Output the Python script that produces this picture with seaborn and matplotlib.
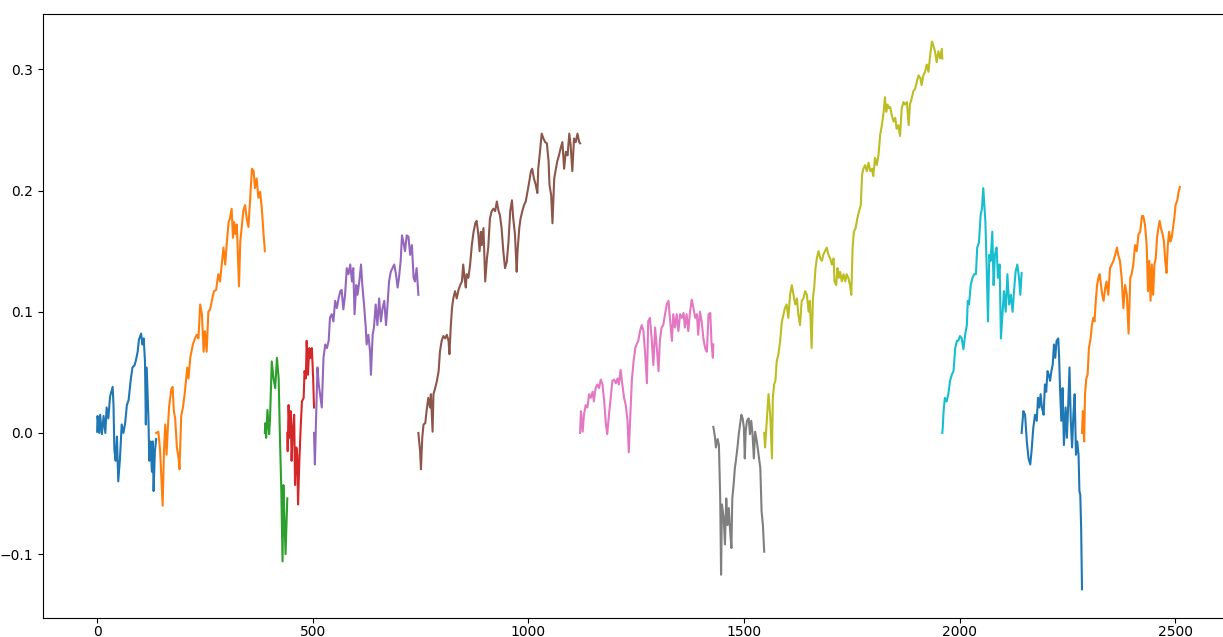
import pandas as pd
import matplotlib
matplotlib.use("Agg")
import matplotlib.pyplot as plt
import seaborn as sns

# cumulative return segments
seg1_x = [0, 1, 5, 7, 11, 15, 19, 22, 26, 30, 36, 38, 40, 43, 46, 49, 53, 57, 61, 65, 69, 73, 78, 82, 87, 90, 94, 97, 102, 105, 108, 111, 113, 115, 119, 121, 124, 127, 129, 131, 134, 137]
seg1_y = [0.001, 0.014, 0.0, 0.015, -0.001, 0.014, 0.0, 0.021, 0.012, 0.030, 0.038, 0.023, -0.014, -0.023, -0.003, -0.040, -0.021, 0.007, 0.0, 0.008, 0.023, 0.027, 0.044, 0.054, 0.056, 0.060, 0.067, 0.077, 0.082, 0.073, 0.078, 0.059, 0.007, 0.054, 0.012, -0.023, -0.007, -0.032, -0.007, -0.048, -0.015, -0.005]

seg2_x = [137, 142, 146, 152, 155, 158, 161, 164, 167, 172, 175, 178, 181, 185, 189, 191, 195, 199, 203, 206, 209, 212, 216, 222, 227, 231, 235, 239, 243, 247, 250, 254, 258, 262, 266, 271, 276, 281, 285, 289, 293, 297, 301, 305, 308, 312, 315, 318, 321, 324, 329, 332, 336, 339, 343, 347, 351, 355, 359, 363, 366, 370, 374, 378, 382, 386, 389]
seg2_y = [0.0, 0.001, -0.014, -0.060, -0.015, 0.007, -0.018, 0.004, 0.022, 0.036, 0.038, 0.018, 0.012, -0.012, -0.021, -0.030, 0.014, 0.021, 0.032, 0.043, 0.054, 0.045, 0.062, 0.073, 0.078, 0.081, 0.078, 0.106, 0.098, 0.067, 0.084, 0.067, 0.100, 0.102, 0.109, 0.117, 0.118, 0.131, 0.125, 0.139, 0.153, 0.139, 0.158, 0.174, 0.177, 0.185, 0.161, 0.174, 0.164, 0.172, 0.121, 0.158, 0.172, 0.183, 0.188, 0.177, 0.170, 0.194, 0.218, 0.216, 0.202, 0.210, 0.194, 0.199, 0.185, 0.164, 0.150]

seg3_x = [389, 390, 392, 395, 399, 401, 405, 409, 413, 417, 421, 424, 427, 430, 432, 434, 437, 441]
seg3_y = [0.0, 0.008, -0.004, 0.019, -0.001, 0.012, 0.059, 0.045, 0.037, 0.062, 0.045, -0.004, -0.045, -0.106, -0.043, -0.067, -0.100, -0.054]

seg4_x = [441, 442, 444, 447, 449, 451, 454, 457, 459, 462, 464, 466, 469, 472, 475, 479, 481, 484, 486, 489, 492, 495, 498, 501, 503]
seg4_y = [0.0, -0.015, 0.023, -0.004, 0.018, -0.023, 0.004, 0.015, -0.043, -0.012, -0.018, -0.059, -0.023, 0.004, 0.026, 0.029, 0.051, 0.045, 0.076, 0.048, 0.070, 0.062, 0.070, 0.045, 0.021]

seg5_x = [503, 505, 508, 511, 514, 517, 521, 525, 529, 533, 537, 540, 544, 548, 552, 556, 560, 564, 567, 571, 575, 579, 583, 587, 591, 594, 597, 601, 604, 608, 612, 615, 619, 623, 625, 629, 633, 635, 639, 642, 646, 650, 654, 658, 662, 666, 670, 673, 677, 681, 685, 689, 693, 697, 700, 704, 707, 710, 714, 718, 722, 726, 730, 734, 737, 741, 745]
seg5_y = [0.0, -0.026, 0.015, 0.054, 0.040, 0.032, 0.021, 0.062, 0.073, 0.070, 0.076, 0.095, 0.098, 0.092, 0.109, 0.103, 0.111, 0.117, 0.118, 0.102, 0.114, 0.136, 0.131, 0.139, 0.125, 0.136, 0.098, 0.122, 0.114, 0.125, 0.139, 0.122, 0.106, 0.087, 0.073, 0.081, 0.067, 0.048, 0.081, 0.087, 0.106, 0.089, 0.111, 0.092, 0.103, 0.109, 0.089, 0.103, 0.125, 0.133, 0.136, 0.139, 0.131, 0.120, 0.128, 0.142, 0.163, 0.158, 0.150, 0.163, 0.162, 0.147, 0.155, 0.128, 0.125, 0.136, 0.114]

seg6_x = [745, 749, 751, 754, 757, 761, 764, 768, 772, 774, 778, 780, 784, 788, 792, 795, 799, 803, 807, 811, 815, 817, 820, 823, 826, 830, 834, 838, 842, 846, 849, 852, 855, 857, 861, 865, 869, 873, 877, 880, 884, 887, 890, 892, 896, 900, 904, 907, 911, 915, 919, 923, 927, 931, 934, 938, 942, 946, 950, 954, 958, 962, 965, 969, 973, 975, 979, 982, 986, 990, 994, 998, 1002, 1006, 1009, 1013, 1017, 1021, 1023, 1027, 1031, 1035, 1039, 1043, 1047, 1049, 1053, 1056, 1060, 1064, 1067, 1071, 1075, 1079, 1083, 1087, 1091, 1095, 1098, 1102, 1106, 1110, 1114, 1118, 1120]
seg6_y = [0.0, -0.015, -0.030, -0.004, 0.007, 0.008, 0.018, 0.029, 0.021, 0.032, 0.001, 0.032, 0.037, 0.043, 0.051, 0.067, 0.076, 0.080, 0.078, 0.081, 0.076, 0.065, 0.087, 0.103, 0.111, 0.117, 0.111, 0.118, 0.122, 0.125, 0.139, 0.128, 0.120, 0.131, 0.128, 0.139, 0.155, 0.166, 0.173, 0.175, 0.164, 0.150, 0.166, 0.155, 0.169, 0.125, 0.144, 0.153, 0.177, 0.183, 0.185, 0.183, 0.191, 0.183, 0.180, 0.169, 0.150, 0.136, 0.141, 0.158, 0.183, 0.192, 0.177, 0.164, 0.133, 0.150, 0.169, 0.177, 0.183, 0.188, 0.191, 0.199, 0.207, 0.216, 0.218, 0.210, 0.205, 0.198, 0.218, 0.232, 0.247, 0.243, 0.240, 0.239, 0.224, 0.205, 0.196, 0.173, 0.210, 0.218, 0.224, 0.229, 0.235, 0.240, 0.218, 0.232, 0.229, 0.247, 0.238, 0.216, 0.243, 0.240, 0.247, 0.240, 0.239]

seg7_x = [1120, 1122, 1126, 1129, 1133, 1137, 1141, 1145, 1149, 1152, 1156, 1160, 1164, 1168, 1172, 1176, 1180, 1183, 1187, 1191, 1195, 1199, 1203, 1207, 1210, 1214, 1218, 1222, 1226, 1230, 1233, 1236, 1240, 1244, 1248, 1251, 1255, 1259, 1263, 1267, 1271, 1275, 1278, 1282, 1286, 1290, 1294, 1298, 1302, 1305, 1309, 1313, 1317, 1321, 1325, 1329, 1333, 1336, 1340, 1344, 1348, 1352, 1356, 1360, 1363, 1367, 1371, 1375, 1379, 1383, 1387, 1391, 1394, 1398, 1402, 1406, 1410, 1414, 1418, 1422, 1425, 1428, 1429]
seg7_y = [0.0, 0.018, 0.001, 0.015, 0.023, 0.021, 0.032, 0.029, 0.034, 0.026, 0.037, 0.040, 0.037, 0.044, 0.040, 0.026, 0.007, -0.001, 0.015, 0.029, 0.043, 0.044, 0.041, 0.045, 0.040, 0.052, 0.040, 0.029, 0.023, 0.010, -0.016, 0.010, 0.043, 0.059, 0.070, 0.073, 0.076, 0.084, 0.089, 0.084, 0.065, 0.041, 0.092, 0.095, 0.078, 0.056, 0.087, 0.070, 0.051, 0.076, 0.087, 0.089, 0.098, 0.106, 0.109, 0.092, 0.076, 0.098, 0.087, 0.098, 0.084, 0.098, 0.095, 0.099, 0.087, 0.098, 0.084, 0.100, 0.110, 0.103, 0.095, 0.098, 0.081, 0.100, 0.092, 0.078, 0.070, 0.067, 0.098, 0.099, 0.073, 0.062, 0.073]

seg8_x = [1429, 1431, 1433, 1435, 1439, 1442, 1445, 1447, 1449, 1453, 1456, 1459, 1462, 1465, 1468, 1471, 1473, 1476, 1479, 1482, 1485, 1488, 1491, 1494, 1497, 1500, 1502, 1504, 1507, 1511, 1514, 1517, 1520, 1523, 1526, 1530, 1534, 1538, 1541, 1544, 1547]
seg8_y = [0.005, 0.001, -0.004, -0.012, -0.005, -0.010, -0.054, -0.117, -0.059, -0.070, -0.092, -0.054, -0.076, -0.062, -0.081, -0.095, -0.054, -0.043, -0.029, -0.021, -0.012, -0.001, 0.007, 0.015, 0.012, 0.004, -0.021, 0.001, 0.010, 0.012, -0.001, 0.010, -0.001, -0.021, 0.001, -0.007, -0.018, -0.029, -0.065, -0.076, -0.098]

seg9_x = [1547, 1549, 1553, 1557, 1561, 1565, 1567, 1570, 1573, 1576, 1580, 1584, 1588, 1592, 1595, 1599, 1603, 1607, 1611, 1615, 1619, 1623, 1626, 1630, 1634, 1638, 1642, 1646, 1650, 1653, 1657, 1660, 1663, 1666, 1669, 1673, 1677, 1681, 1684, 1688, 1692, 1696, 1700, 1704, 1708, 1710, 1714, 1717, 1720, 1723, 1727, 1731, 1735, 1738, 1742, 1746, 1749, 1752, 1755, 1759, 1763, 1767, 1771, 1774, 1777, 1781, 1785, 1789, 1793, 1797, 1800, 1804, 1808, 1812, 1816, 1820, 1824, 1827, 1830, 1833, 1836, 1839, 1843, 1847, 1851, 1854, 1858, 1862, 1866, 1870, 1874, 1878, 1882, 1885, 1889, 1893, 1897, 1901, 1905, 1909, 1912, 1916, 1920, 1924, 1928, 1932, 1936, 1939, 1943, 1947, 1951, 1955, 1959, 1960]
seg9_y = [0.0, -0.012, 0.010, 0.032, 0.015, -0.021, 0.029, 0.040, 0.043, 0.059, 0.065, 0.076, 0.092, 0.098, 0.103, 0.106, 0.095, 0.114, 0.122, 0.114, 0.106, 0.111, 0.098, 0.089, 0.109, 0.111, 0.117, 0.114, 0.100, 0.109, 0.070, 0.111, 0.120, 0.136, 0.144, 0.150, 0.144, 0.142, 0.147, 0.150, 0.153, 0.147, 0.144, 0.139, 0.144, 0.125, 0.122, 0.136, 0.128, 0.133, 0.125, 0.131, 0.125, 0.131, 0.128, 0.122, 0.114, 0.153, 0.166, 0.169, 0.177, 0.183, 0.188, 0.213, 0.218, 0.221, 0.216, 0.223, 0.216, 0.218, 0.212, 0.227, 0.221, 0.229, 0.246, 0.254, 0.265, 0.277, 0.265, 0.271, 0.268, 0.269, 0.262, 0.257, 0.260, 0.251, 0.254, 0.245, 0.268, 0.273, 0.271, 0.273, 0.254, 0.271, 0.276, 0.282, 0.284, 0.290, 0.295, 0.293, 0.287, 0.295, 0.298, 0.304, 0.298, 0.312, 0.323, 0.320, 0.315, 0.306, 0.315, 0.309, 0.317, 0.309]

seg10_x = [1960, 1961, 1963, 1966, 1970, 1974, 1978, 1982, 1986, 1990, 1994, 1997, 2001, 2005, 2009, 2013, 2017, 2019, 2022, 2026, 2030, 2034, 2038, 2041, 2045, 2049, 2052, 2055, 2058, 2060, 2063, 2066, 2069, 2072, 2076, 2079, 2082, 2086, 2089, 2093, 2096, 2099, 2103, 2107, 2111, 2115, 2119, 2123, 2127, 2130, 2134, 2138, 2141, 2144]
seg10_y = [0.0, 0.004, 0.018, 0.029, 0.026, 0.032, 0.043, 0.048, 0.051, 0.070, 0.076, 0.076, 0.080, 0.078, 0.069, 0.081, 0.089, 0.109, 0.106, 0.122, 0.128, 0.131, 0.131, 0.153, 0.157, 0.180, 0.185, 0.202, 0.185, 0.174, 0.136, 0.092, 0.147, 0.142, 0.166, 0.122, 0.147, 0.153, 0.128, 0.139, 0.078, 0.095, 0.117, 0.100, 0.131, 0.106, 0.114, 0.100, 0.120, 0.133, 0.139, 0.128, 0.114, 0.132]

seg11_x = [2144, 2148, 2152, 2156, 2160, 2164, 2167, 2171, 2175, 2179, 2182, 2185, 2188, 2191, 2195, 2198, 2201, 2204, 2207, 2210, 2213, 2216, 2219, 2222, 2225, 2229, 2231, 2233, 2236, 2239, 2242, 2246, 2249, 2252, 2255, 2258, 2261, 2264, 2267, 2270, 2273, 2276, 2278, 2280, 2282, 2284]
seg11_y = [0.0, 0.018, 0.015, -0.007, -0.021, -0.026, -0.015, 0.004, 0.015, 0.010, 0.029, 0.021, 0.032, 0.021, 0.015, 0.040, 0.034, 0.051, 0.048, 0.043, 0.051, 0.056, 0.073, 0.062, 0.076, 0.078, 0.062, 0.037, 0.010, 0.037, -0.010, 0.021, -0.004, 0.023, 0.054, 0.010, -0.012, 0.015, 0.032, -0.018, -0.007, -0.018, -0.048, -0.051, -0.078, -0.129]

seg12_x = [2284, 2286, 2289, 2291, 2294, 2297, 2300, 2304, 2307, 2310, 2313, 2316, 2319, 2322, 2325, 2328, 2331, 2334, 2338, 2341, 2345, 2349, 2353, 2357, 2361, 2365, 2368, 2372, 2376, 2380, 2384, 2388, 2392, 2396, 2399, 2403, 2407, 2411, 2415, 2419, 2423, 2426, 2430, 2434, 2437, 2440, 2443, 2446, 2449, 2452, 2455, 2458, 2461, 2464, 2467, 2471, 2474, 2477, 2480, 2483, 2486, 2489, 2492, 2495, 2498, 2501, 2505, 2508, 2511]
seg12_y = [0.0, 0.018, -0.007, 0.032, 0.045, 0.048, 0.070, 0.078, 0.089, 0.095, 0.092, 0.109, 0.122, 0.128, 0.131, 0.122, 0.114, 0.109, 0.120, 0.125, 0.114, 0.136, 0.139, 0.142, 0.147, 0.153, 0.147, 0.142, 0.128, 0.103, 0.122, 0.114, 0.082, 0.128, 0.131, 0.139, 0.155, 0.150, 0.164, 0.166, 0.179, 0.179, 0.172, 0.155, 0.117, 0.142, 0.109, 0.139, 0.114, 0.139, 0.144, 0.161, 0.169, 0.175, 0.169, 0.164, 0.158, 0.142, 0.132, 0.155, 0.166, 0.158, 0.161, 0.169, 0.177, 0.188, 0.192, 0.199, 0.203]

segments = [
    (seg1_x, seg1_y), (seg2_x, seg2_y), (seg3_x, seg3_y), (seg4_x, seg4_y),
    (seg5_x, seg5_y), (seg6_x, seg6_y), (seg7_x, seg7_y), (seg8_x, seg8_y),
    (seg9_x, seg9_y), (seg10_x, seg10_y), (seg11_x, seg11_y), (seg12_x, seg12_y),
]

colors = sns.color_palette("tab10")

fig = plt.figure(figsize=(12.23, 6.37), dpi=100)
# axes runs a little past the right edge, like the cropped reference
ax = fig.add_axes([43 / 1223, 19 / 637, 1191 / 1223, 604 / 637])

for i, (xs, ys) in enumerate(segments):
    df = pd.DataFrame({"x": xs, "y": ys})
    sns.lineplot(data=df, x="x", y="y", ax=ax, color=colors[i % 10],
                 sort=False, estimator=None, linewidth=1.5)

ax.set_xlim(-125.5, 2636.5)
ax.set_ylim(-0.1527, 0.3457)
ax.set_xticks([0, 500, 1000, 1500, 2000, 2500])
ax.set_yticks([-0.1, 0.0, 0.1, 0.2, 0.3])
ax.tick_params(axis="x", pad=1.5)
ax.set_xlabel("")
ax.set_ylabel("")

fig.savefig("out.png", dpi=100)
